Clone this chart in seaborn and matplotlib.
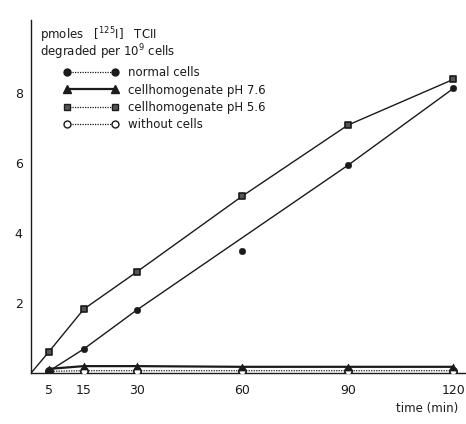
import matplotlib
matplotlib.use("Agg")
import matplotlib.pyplot as plt
from matplotlib.lines import Line2D
import seaborn as sns

sns.set_theme(style="white")
plt.rcParams['font.family'] = ['DejaVu Sans']

# time points (min)
times = [5, 15, 30, 60, 90, 120]
tick_labels = ["5", "15", "30", "60", "90", "120"]

# pmoles [125I]TCII degraded per 10^9 cells
normal_cells = [0.05, 0.69, 1.80, 3.50, 5.94, 8.14]
homog_ph76 = [0.12, 0.20, 0.20, 0.18, 0.18, 0.18]
homog_ph56 = [0.60, 1.83, 2.89, 5.06, 7.09, 8.40]
without_cells = [0.05, 0.07, 0.07, 0.07, 0.07, 0.07]

# the fitted line for normal cells leaves out the 60-min outlier
normal_line_times = [5, 15, 30, 90, 120]
normal_line_vals = [0.05, 0.69, 1.80, 5.94, 8.14]
# the pH 5.6 curve is drawn from the origin
ph56_line_times = [0] + times
ph56_line_vals = [0.0] + homog_ph56

fig = plt.figure(figsize=(4.66, 4.24), dpi=100)
ax = fig.add_axes([0.0665, 0.12, 0.9335, 0.833])

ink = "#1a1a1a"

# lines
sns.lineplot(x=normal_line_times, y=normal_line_vals, ax=ax, color=ink, lw=1.0)
sns.lineplot(x=ph56_line_times, y=ph56_line_vals, ax=ax, color=ink, lw=1.0)
sns.lineplot(x=times, y=homog_ph76, ax=ax, color=ink, lw=1.6)
sns.lineplot(x=times, y=without_cells, ax=ax, color=ink, lw=0.9, linestyle=(0, (1, 1)))

# markers
sns.scatterplot(x=times, y=without_cells, ax=ax, marker="o", s=28,
                facecolor="white", edgecolor=ink, linewidth=1.2, zorder=4)
sns.scatterplot(x=times, y=homog_ph76, ax=ax, marker="^", s=26,
                color=ink, edgecolor=ink, zorder=5)
sns.scatterplot(x=times, y=normal_cells, ax=ax, marker="o", s=22,
                color=ink, edgecolor=ink, zorder=5)
sns.scatterplot(x=times, y=homog_ph56, ax=ax, marker="s", s=22,
                facecolor="#555555", edgecolor=ink, linewidth=1.2, zorder=5)

ax.set_xlim(0, 123.6)
ax.set_ylim(0, 10.1)
ax.set_xticks(times)
ax.set_xticklabels(tick_labels)
ax.set_yticks([2, 4, 6, 8])
ax.set_yticklabels(["2", "4", "6", "8"])
ax.tick_params(axis="both", which="both", direction="out", length=3, width=0.8,
               color=ink, labelsize=9, labelcolor=ink, pad=3)
ax.tick_params(axis="x", pad=5)
for side in ("top", "right"):
    ax.spines[side].set_visible(False)
for side in ("left", "bottom"):
    ax.spines[side].set_color(ink)
    ax.spines[side].set_linewidth(1.0)
ax.set_xlabel("")
ax.set_ylabel("")

# axis title in the upper-left corner
ax.text(0.02, 0.985, r"pmoles   [$^{125}$I]   TCII", transform=ax.transAxes,
        fontsize=8.5, color=ink, va="top", ha="left")
ax.text(0.02, 0.935, r"degraded per 10$^{9}$ cells", transform=ax.transAxes,
        fontsize=8.5, color=ink, va="top", ha="left")

fig.text(0.983, 0.022, "time (min)", fontsize=8.5, color=ink, ha="right", va="bottom")

handles = [
    Line2D([], [], color=ink, lw=0.9, linestyle=(0, (1, 1)), marker="o",
           markersize=5, markerfacecolor=ink, markeredgecolor=ink),
    Line2D([], [], color=ink, lw=1.6, marker="^", markersize=6,
           markerfacecolor=ink, markeredgecolor=ink),
    Line2D([], [], color=ink, lw=0.9, linestyle=(0, (1, 1)), marker="s",
           markersize=5, markerfacecolor="#555555", markeredgecolor=ink),
    Line2D([], [], color=ink, lw=0.9, linestyle=(0, (1, 1)), marker="o",
           markersize=5, markerfacecolor="white", markeredgecolor=ink),
]
labels = ["normal cells", "cellhomogenate pH 7.6", "cellhomogenate pH 5.6",
          "without cells"]
ax.legend(handles, labels, loc="upper left", bbox_to_anchor=(0.06, 0.885),
          frameon=False, numpoints=2, handlelength=4.7, handletextpad=0.8,
          labelspacing=0.35, fontsize=8.5, labelcolor=ink, borderpad=0)

fig.savefig("out.png", dpi=100, facecolor="white")
